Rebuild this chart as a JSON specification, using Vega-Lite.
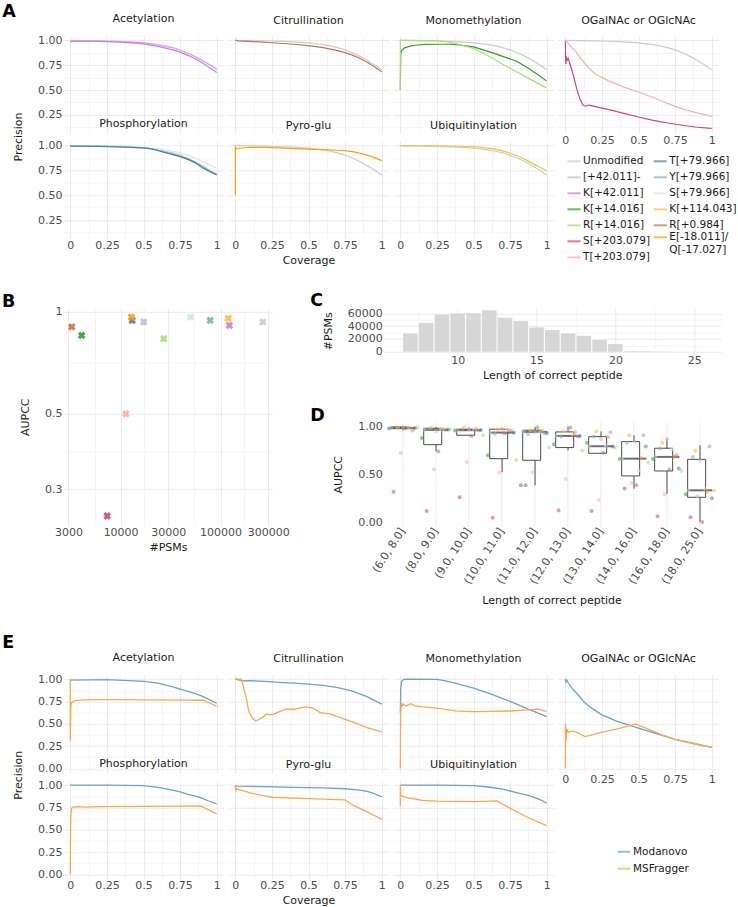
{
"$schema": "https://vega.github.io/schema/vega-lite/v6.json",
"padding": {"left": 2, "top": 3, "right": 0, "bottom": 0},
"background": "white",
"datasets": {
"curvesA": [
{"panel":"all","mod":"Unmodified","cov":0,"prec":1.0},{"panel":"all","mod":"Unmodified","cov":0.1,"prec":0.998},{"panel":"all","mod":"Unmodified","cov":0.2,"prec":0.996},{"panel":"all","mod":"Unmodified","cov":0.3,"prec":0.992},{"panel":"all","mod":"Unmodified","cov":0.4,"prec":0.986},{"panel":"all","mod":"Unmodified","cov":0.5,"prec":0.976},{"panel":"all","mod":"Unmodified","cov":0.6,"prec":0.958},{"panel":"all","mod":"Unmodified","cov":0.65,"prec":0.945},{"panel":"all","mod":"Unmodified","cov":0.7,"prec":0.928},{"panel":"all","mod":"Unmodified","cov":0.75,"prec":0.905},{"panel":"all","mod":"Unmodified","cov":0.8,"prec":0.876},{"panel":"all","mod":"Unmodified","cov":0.85,"prec":0.842},{"panel":"all","mod":"Unmodified","cov":0.9,"prec":0.8},{"panel":"all","mod":"Unmodified","cov":0.95,"prec":0.755},{"panel":"all","mod":"Unmodified","cov":1.0,"prec":0.705},
{"panel":"Acetylation","mod":"[+42.011]-","cov":0,"prec":0.99},{"panel":"Acetylation","mod":"[+42.011]-","cov":0.02,"prec":0.995},{"panel":"Acetylation","mod":"[+42.011]-","cov":0.1,"prec":0.995},{"panel":"Acetylation","mod":"[+42.011]-","cov":0.2,"prec":0.994},{"panel":"Acetylation","mod":"[+42.011]-","cov":0.3,"prec":0.99},{"panel":"Acetylation","mod":"[+42.011]-","cov":0.4,"prec":0.985},{"panel":"Acetylation","mod":"[+42.011]-","cov":0.5,"prec":0.975},{"panel":"Acetylation","mod":"[+42.011]-","cov":0.6,"prec":0.955},{"panel":"Acetylation","mod":"[+42.011]-","cov":0.7,"prec":0.925},{"panel":"Acetylation","mod":"[+42.011]-","cov":0.75,"prec":0.902},{"panel":"Acetylation","mod":"[+42.011]-","cov":0.8,"prec":0.872},{"panel":"Acetylation","mod":"[+42.011]-","cov":0.85,"prec":0.838},{"panel":"Acetylation","mod":"[+42.011]-","cov":0.9,"prec":0.798},{"panel":"Acetylation","mod":"[+42.011]-","cov":0.95,"prec":0.757},{"panel":"Acetylation","mod":"[+42.011]-","cov":1.0,"prec":0.715},
{"panel":"Acetylation","mod":"K[+42.011]","cov":0,"prec":0.985},{"panel":"Acetylation","mod":"K[+42.011]","cov":0.02,"prec":0.993},{"panel":"Acetylation","mod":"K[+42.011]","cov":0.1,"prec":0.993},{"panel":"Acetylation","mod":"K[+42.011]","cov":0.2,"prec":0.991},{"panel":"Acetylation","mod":"K[+42.011]","cov":0.3,"prec":0.986},{"panel":"Acetylation","mod":"K[+42.011]","cov":0.4,"prec":0.978},{"panel":"Acetylation","mod":"K[+42.011]","cov":0.5,"prec":0.965},{"panel":"Acetylation","mod":"K[+42.011]","cov":0.6,"prec":0.94},{"panel":"Acetylation","mod":"K[+42.011]","cov":0.7,"prec":0.905},{"panel":"Acetylation","mod":"K[+42.011]","cov":0.75,"prec":0.882},{"panel":"Acetylation","mod":"K[+42.011]","cov":0.8,"prec":0.852},{"panel":"Acetylation","mod":"K[+42.011]","cov":0.85,"prec":0.818},{"panel":"Acetylation","mod":"K[+42.011]","cov":0.9,"prec":0.775},{"panel":"Acetylation","mod":"K[+42.011]","cov":0.95,"prec":0.728},{"panel":"Acetylation","mod":"K[+42.011]","cov":1.0,"prec":0.678},
{"panel":"Citrullination","mod":"R[+0.984]","cov":0,"prec":1.0},{"panel":"Citrullination","mod":"R[+0.984]","cov":0.02,"prec":0.995},{"panel":"Citrullination","mod":"R[+0.984]","cov":0.1,"prec":0.99},{"panel":"Citrullination","mod":"R[+0.984]","cov":0.2,"prec":0.982},{"panel":"Citrullination","mod":"R[+0.984]","cov":0.3,"prec":0.972},{"panel":"Citrullination","mod":"R[+0.984]","cov":0.4,"prec":0.962},{"panel":"Citrullination","mod":"R[+0.984]","cov":0.5,"prec":0.948},{"panel":"Citrullination","mod":"R[+0.984]","cov":0.6,"prec":0.928},{"panel":"Citrullination","mod":"R[+0.984]","cov":0.7,"prec":0.898},{"panel":"Citrullination","mod":"R[+0.984]","cov":0.75,"prec":0.878},{"panel":"Citrullination","mod":"R[+0.984]","cov":0.8,"prec":0.852},{"panel":"Citrullination","mod":"R[+0.984]","cov":0.85,"prec":0.82},{"panel":"Citrullination","mod":"R[+0.984]","cov":0.9,"prec":0.78},{"panel":"Citrullination","mod":"R[+0.984]","cov":0.95,"prec":0.735},{"panel":"Citrullination","mod":"R[+0.984]","cov":1.0,"prec":0.685},
{"panel":"Monomethylation","mod":"K[+14.016]","cov":0,"prec":0.5},{"panel":"Monomethylation","mod":"K[+14.016]","cov":0.003,"prec":0.87},{"panel":"Monomethylation","mod":"K[+14.016]","cov":0.01,"prec":0.9},{"panel":"Monomethylation","mod":"K[+14.016]","cov":0.03,"prec":0.925},{"panel":"Monomethylation","mod":"K[+14.016]","cov":0.06,"prec":0.94},{"panel":"Monomethylation","mod":"K[+14.016]","cov":0.1,"prec":0.952},{"panel":"Monomethylation","mod":"K[+14.016]","cov":0.17,"prec":0.96},{"panel":"Monomethylation","mod":"K[+14.016]","cov":0.25,"prec":0.962},{"panel":"Monomethylation","mod":"K[+14.016]","cov":0.33,"prec":0.962},{"panel":"Monomethylation","mod":"K[+14.016]","cov":0.4,"prec":0.955},{"panel":"Monomethylation","mod":"K[+14.016]","cov":0.5,"prec":0.935},{"panel":"Monomethylation","mod":"K[+14.016]","cov":0.6,"prec":0.89},{"panel":"Monomethylation","mod":"K[+14.016]","cov":0.7,"prec":0.84},{"panel":"Monomethylation","mod":"K[+14.016]","cov":0.75,"prec":0.815},{"panel":"Monomethylation","mod":"K[+14.016]","cov":0.8,"prec":0.785},{"panel":"Monomethylation","mod":"K[+14.016]","cov":0.875,"prec":0.72},{"panel":"Monomethylation","mod":"K[+14.016]","cov":0.95,"prec":0.645},{"panel":"Monomethylation","mod":"K[+14.016]","cov":1.0,"prec":0.59},
{"panel":"Monomethylation","mod":"R[+14.016]","cov":0,"prec":0.5},{"panel":"Monomethylation","mod":"R[+14.016]","cov":0,"prec":1.0},{"panel":"Monomethylation","mod":"R[+14.016]","cov":0.01,"prec":1.0},{"panel":"Monomethylation","mod":"R[+14.016]","cov":0.25,"prec":0.998},{"panel":"Monomethylation","mod":"R[+14.016]","cov":0.3,"prec":0.99},{"panel":"Monomethylation","mod":"R[+14.016]","cov":0.375,"prec":0.97},{"panel":"Monomethylation","mod":"R[+14.016]","cov":0.45,"prec":0.94},{"panel":"Monomethylation","mod":"R[+14.016]","cov":0.5,"prec":0.92},{"panel":"Monomethylation","mod":"R[+14.016]","cov":0.625,"prec":0.825},{"panel":"Monomethylation","mod":"R[+14.016]","cov":0.7,"prec":0.76},{"panel":"Monomethylation","mod":"R[+14.016]","cov":0.75,"prec":0.72},{"panel":"Monomethylation","mod":"R[+14.016]","cov":0.8,"prec":0.68},{"panel":"Monomethylation","mod":"R[+14.016]","cov":0.875,"prec":0.62},{"panel":"Monomethylation","mod":"R[+14.016]","cov":0.95,"prec":0.56},{"panel":"Monomethylation","mod":"R[+14.016]","cov":1.0,"prec":0.52},
{"panel":"OGalNAc or OGlcNAc","mod":"S[+203.079]","cov":0,"prec":1.0},{"panel":"OGalNAc or OGlcNAc","mod":"S[+203.079]","cov":0.003,"prec":0.76},{"panel":"OGalNAc or OGlcNAc","mod":"S[+203.079]","cov":0.006,"prec":0.84},{"panel":"OGalNAc or OGlcNAc","mod":"S[+203.079]","cov":0.012,"prec":0.8},{"panel":"OGalNAc or OGlcNAc","mod":"S[+203.079]","cov":0.02,"prec":0.82},{"panel":"OGalNAc or OGlcNAc","mod":"S[+203.079]","cov":0.03,"prec":0.77},{"panel":"OGalNAc or OGlcNAc","mod":"S[+203.079]","cov":0.045,"prec":0.7},{"panel":"OGalNAc or OGlcNAc","mod":"S[+203.079]","cov":0.06,"prec":0.62},{"panel":"OGalNAc or OGlcNAc","mod":"S[+203.079]","cov":0.08,"prec":0.5},{"panel":"OGalNAc or OGlcNAc","mod":"S[+203.079]","cov":0.1,"prec":0.41},{"panel":"OGalNAc or OGlcNAc","mod":"S[+203.079]","cov":0.12,"prec":0.35},{"panel":"OGalNAc or OGlcNAc","mod":"S[+203.079]","cov":0.14,"prec":0.337},{"panel":"OGalNAc or OGlcNAc","mod":"S[+203.079]","cov":0.16,"prec":0.348},{"panel":"OGalNAc or OGlcNAc","mod":"S[+203.079]","cov":0.2,"prec":0.335},{"panel":"OGalNAc or OGlcNAc","mod":"S[+203.079]","cov":0.25,"prec":0.318},{"panel":"OGalNAc or OGlcNAc","mod":"S[+203.079]","cov":0.3,"prec":0.302},{"panel":"OGalNAc or OGlcNAc","mod":"S[+203.079]","cov":0.4,"prec":0.265},{"panel":"OGalNAc or OGlcNAc","mod":"S[+203.079]","cov":0.5,"prec":0.228},{"panel":"OGalNAc or OGlcNAc","mod":"S[+203.079]","cov":0.6,"prec":0.195},{"panel":"OGalNAc or OGlcNAc","mod":"S[+203.079]","cov":0.7,"prec":0.168},{"panel":"OGalNAc or OGlcNAc","mod":"S[+203.079]","cov":0.8,"prec":0.145},{"panel":"OGalNAc or OGlcNAc","mod":"S[+203.079]","cov":0.9,"prec":0.125},{"panel":"OGalNAc or OGlcNAc","mod":"S[+203.079]","cov":1.0,"prec":0.113},
{"panel":"OGalNAc or OGlcNAc","mod":"T[+203.079]","cov":0,"prec":1.0},{"panel":"OGalNAc or OGlcNAc","mod":"T[+203.079]","cov":0.01,"prec":0.99},{"panel":"OGalNAc or OGlcNAc","mod":"T[+203.079]","cov":0.03,"prec":0.95},{"panel":"OGalNAc or OGlcNAc","mod":"T[+203.079]","cov":0.07,"prec":0.89},{"panel":"OGalNAc or OGlcNAc","mod":"T[+203.079]","cov":0.11,"prec":0.81},{"panel":"OGalNAc or OGlcNAc","mod":"T[+203.079]","cov":0.16,"prec":0.72},{"panel":"OGalNAc or OGlcNAc","mod":"T[+203.079]","cov":0.2,"prec":0.67},{"panel":"OGalNAc or OGlcNAc","mod":"T[+203.079]","cov":0.25,"prec":0.625},{"panel":"OGalNAc or OGlcNAc","mod":"T[+203.079]","cov":0.3,"prec":0.59},{"panel":"OGalNAc or OGlcNAc","mod":"T[+203.079]","cov":0.4,"prec":0.53},{"panel":"OGalNAc or OGlcNAc","mod":"T[+203.079]","cov":0.5,"prec":0.48},{"panel":"OGalNAc or OGlcNAc","mod":"T[+203.079]","cov":0.6,"prec":0.425},{"panel":"OGalNAc or OGlcNAc","mod":"T[+203.079]","cov":0.7,"prec":0.365},{"panel":"OGalNAc or OGlcNAc","mod":"T[+203.079]","cov":0.75,"prec":0.335},{"panel":"OGalNAc or OGlcNAc","mod":"T[+203.079]","cov":0.8,"prec":0.31},{"panel":"OGalNAc or OGlcNAc","mod":"T[+203.079]","cov":0.9,"prec":0.27},{"panel":"OGalNAc or OGlcNAc","mod":"T[+203.079]","cov":1.0,"prec":0.235},
{"panel":"Phosphorylation","mod":"S[+79.966]","cov":0,"prec":1.0},{"panel":"Phosphorylation","mod":"S[+79.966]","cov":0.2,"prec":0.998},{"panel":"Phosphorylation","mod":"S[+79.966]","cov":0.4,"prec":0.993},{"panel":"Phosphorylation","mod":"S[+79.966]","cov":0.5,"prec":0.985},{"panel":"Phosphorylation","mod":"S[+79.966]","cov":0.6,"prec":0.97},{"panel":"Phosphorylation","mod":"S[+79.966]","cov":0.7,"prec":0.945},{"panel":"Phosphorylation","mod":"S[+79.966]","cov":0.75,"prec":0.928},{"panel":"Phosphorylation","mod":"S[+79.966]","cov":0.8,"prec":0.905},{"panel":"Phosphorylation","mod":"S[+79.966]","cov":0.875,"prec":0.862},{"panel":"Phosphorylation","mod":"S[+79.966]","cov":0.95,"prec":0.81},{"panel":"Phosphorylation","mod":"S[+79.966]","cov":1.0,"prec":0.775},
{"panel":"Phosphorylation","mod":"Y[+79.966]","cov":0,"prec":1.0},{"panel":"Phosphorylation","mod":"Y[+79.966]","cov":0.1,"prec":0.996},{"panel":"Phosphorylation","mod":"Y[+79.966]","cov":0.2,"prec":0.994},{"panel":"Phosphorylation","mod":"Y[+79.966]","cov":0.3,"prec":0.991},{"panel":"Phosphorylation","mod":"Y[+79.966]","cov":0.4,"prec":0.986},{"panel":"Phosphorylation","mod":"Y[+79.966]","cov":0.5,"prec":0.98},{"panel":"Phosphorylation","mod":"Y[+79.966]","cov":0.55,"prec":0.972},{"panel":"Phosphorylation","mod":"Y[+79.966]","cov":0.6,"prec":0.955},{"panel":"Phosphorylation","mod":"Y[+79.966]","cov":0.7,"prec":0.915},{"panel":"Phosphorylation","mod":"Y[+79.966]","cov":0.75,"prec":0.895},{"panel":"Phosphorylation","mod":"Y[+79.966]","cov":0.8,"prec":0.87},{"panel":"Phosphorylation","mod":"Y[+79.966]","cov":0.85,"prec":0.835},{"panel":"Phosphorylation","mod":"Y[+79.966]","cov":0.9,"prec":0.79},{"panel":"Phosphorylation","mod":"Y[+79.966]","cov":0.95,"prec":0.75},{"panel":"Phosphorylation","mod":"Y[+79.966]","cov":1.0,"prec":0.715},
{"panel":"Phosphorylation","mod":"T[+79.966]","cov":0,"prec":0.995},{"panel":"Phosphorylation","mod":"T[+79.966]","cov":0.1,"prec":0.995},{"panel":"Phosphorylation","mod":"T[+79.966]","cov":0.2,"prec":0.993},{"panel":"Phosphorylation","mod":"T[+79.966]","cov":0.3,"prec":0.99},{"panel":"Phosphorylation","mod":"T[+79.966]","cov":0.4,"prec":0.985},{"panel":"Phosphorylation","mod":"T[+79.966]","cov":0.5,"prec":0.978},{"panel":"Phosphorylation","mod":"T[+79.966]","cov":0.55,"prec":0.97},{"panel":"Phosphorylation","mod":"T[+79.966]","cov":0.6,"prec":0.95},{"panel":"Phosphorylation","mod":"T[+79.966]","cov":0.7,"prec":0.91},{"panel":"Phosphorylation","mod":"T[+79.966]","cov":0.75,"prec":0.89},{"panel":"Phosphorylation","mod":"T[+79.966]","cov":0.8,"prec":0.865},{"panel":"Phosphorylation","mod":"T[+79.966]","cov":0.85,"prec":0.83},{"panel":"Phosphorylation","mod":"T[+79.966]","cov":0.9,"prec":0.78},{"panel":"Phosphorylation","mod":"T[+79.966]","cov":0.95,"prec":0.74},{"panel":"Phosphorylation","mod":"T[+79.966]","cov":1.0,"prec":0.705},
{"panel":"Pyro-glu","mod":"E[-18.011]/Q[-17.027]","cov":0,"prec":0.5},{"panel":"Pyro-glu","mod":"E[-18.011]/Q[-17.027]","cov":0,"prec":0.99},{"panel":"Pyro-glu","mod":"E[-18.011]/Q[-17.027]","cov":0.01,"prec":0.97},{"panel":"Pyro-glu","mod":"E[-18.011]/Q[-17.027]","cov":0.03,"prec":0.975},{"panel":"Pyro-glu","mod":"E[-18.011]/Q[-17.027]","cov":0.1,"prec":0.985},{"panel":"Pyro-glu","mod":"E[-18.011]/Q[-17.027]","cov":0.2,"prec":0.983},{"panel":"Pyro-glu","mod":"E[-18.011]/Q[-17.027]","cov":0.3,"prec":0.978},{"panel":"Pyro-glu","mod":"E[-18.011]/Q[-17.027]","cov":0.4,"prec":0.972},{"panel":"Pyro-glu","mod":"E[-18.011]/Q[-17.027]","cov":0.5,"prec":0.967},{"panel":"Pyro-glu","mod":"E[-18.011]/Q[-17.027]","cov":0.6,"prec":0.962},{"panel":"Pyro-glu","mod":"E[-18.011]/Q[-17.027]","cov":0.7,"prec":0.955},{"panel":"Pyro-glu","mod":"E[-18.011]/Q[-17.027]","cov":0.75,"prec":0.95},{"panel":"Pyro-glu","mod":"E[-18.011]/Q[-17.027]","cov":0.8,"prec":0.94},{"panel":"Pyro-glu","mod":"E[-18.011]/Q[-17.027]","cov":0.85,"prec":0.925},{"panel":"Pyro-glu","mod":"E[-18.011]/Q[-17.027]","cov":0.9,"prec":0.905},{"panel":"Pyro-glu","mod":"E[-18.011]/Q[-17.027]","cov":0.95,"prec":0.88},{"panel":"Pyro-glu","mod":"E[-18.011]/Q[-17.027]","cov":1.0,"prec":0.85},
{"panel":"Ubiquitinylation","mod":"K[+114.043]","cov":0,"prec":1.0},{"panel":"Ubiquitinylation","mod":"K[+114.043]","cov":0.2,"prec":0.999},{"panel":"Ubiquitinylation","mod":"K[+114.043]","cov":0.4,"prec":0.995},{"panel":"Ubiquitinylation","mod":"K[+114.043]","cov":0.5,"prec":0.99},{"panel":"Ubiquitinylation","mod":"K[+114.043]","cov":0.55,"prec":0.985},{"panel":"Ubiquitinylation","mod":"K[+114.043]","cov":0.625,"prec":0.972},{"panel":"Ubiquitinylation","mod":"K[+114.043]","cov":0.7,"prec":0.948},{"panel":"Ubiquitinylation","mod":"K[+114.043]","cov":0.75,"prec":0.925},{"panel":"Ubiquitinylation","mod":"K[+114.043]","cov":0.8,"prec":0.9},{"panel":"Ubiquitinylation","mod":"K[+114.043]","cov":0.875,"prec":0.845},{"panel":"Ubiquitinylation","mod":"K[+114.043]","cov":0.95,"prec":0.785},{"panel":"Ubiquitinylation","mod":"K[+114.043]","cov":1.0,"prec":0.745}
],
"curvesE": [
{"panel":"Acetylation","tool":"Modanovo","cov":0,"prec":0.99},{"panel":"Acetylation","tool":"Modanovo","cov":0.25,"prec":0.995},{"panel":"Acetylation","tool":"Modanovo","cov":0.4,"prec":0.985},{"panel":"Acetylation","tool":"Modanovo","cov":0.5,"prec":0.975},{"panel":"Acetylation","tool":"Modanovo","cov":0.6,"prec":0.955},{"panel":"Acetylation","tool":"Modanovo","cov":0.7,"prec":0.915},{"panel":"Acetylation","tool":"Modanovo","cov":0.75,"prec":0.89},{"panel":"Acetylation","tool":"Modanovo","cov":0.8,"prec":0.865},{"panel":"Acetylation","tool":"Modanovo","cov":0.85,"prec":0.84},{"panel":"Acetylation","tool":"Modanovo","cov":0.9,"prec":0.81},{"panel":"Acetylation","tool":"Modanovo","cov":0.95,"prec":0.77},{"panel":"Acetylation","tool":"Modanovo","cov":1.0,"prec":0.73},
{"panel":"Acetylation","tool":"MSFragger","cov":0,"prec":1.0},{"panel":"Acetylation","tool":"MSFragger","cov":0,"prec":0.31},{"panel":"Acetylation","tool":"MSFragger","cov":0.003,"prec":0.7},{"panel":"Acetylation","tool":"MSFragger","cov":0.01,"prec":0.74},{"panel":"Acetylation","tool":"MSFragger","cov":0.03,"prec":0.76},{"panel":"Acetylation","tool":"MSFragger","cov":0.1,"prec":0.768},{"panel":"Acetylation","tool":"MSFragger","cov":0.25,"prec":0.77},{"panel":"Acetylation","tool":"MSFragger","cov":0.5,"prec":0.768},{"panel":"Acetylation","tool":"MSFragger","cov":0.75,"prec":0.765},{"panel":"Acetylation","tool":"MSFragger","cov":0.91,"prec":0.764},{"panel":"Acetylation","tool":"MSFragger","cov":1.0,"prec":0.698},
{"panel":"Citrullination","tool":"Modanovo","cov":0,"prec":1.0},{"panel":"Citrullination","tool":"Modanovo","cov":0.03,"prec":0.99},{"panel":"Citrullination","tool":"Modanovo","cov":0.06,"prec":0.98},{"panel":"Citrullination","tool":"Modanovo","cov":0.1,"prec":0.985},{"panel":"Citrullination","tool":"Modanovo","cov":0.2,"prec":0.975},{"panel":"Citrullination","tool":"Modanovo","cov":0.3,"prec":0.965},{"panel":"Citrullination","tool":"Modanovo","cov":0.4,"prec":0.955},{"panel":"Citrullination","tool":"Modanovo","cov":0.5,"prec":0.945},{"panel":"Citrullination","tool":"Modanovo","cov":0.6,"prec":0.93},{"panel":"Citrullination","tool":"Modanovo","cov":0.7,"prec":0.905},{"panel":"Citrullination","tool":"Modanovo","cov":0.8,"prec":0.865},{"panel":"Citrullination","tool":"Modanovo","cov":0.9,"prec":0.805},{"panel":"Citrullination","tool":"Modanovo","cov":1.0,"prec":0.72},
{"panel":"Citrullination","tool":"MSFragger","cov":0,"prec":1.0},{"panel":"Citrullination","tool":"MSFragger","cov":0.04,"prec":1.0},{"panel":"Citrullination","tool":"MSFragger","cov":0.05,"prec":0.95},{"panel":"Citrullination","tool":"MSFragger","cov":0.065,"prec":0.85},{"panel":"Citrullination","tool":"MSFragger","cov":0.077,"prec":0.78},{"panel":"Citrullination","tool":"MSFragger","cov":0.09,"prec":0.65},{"panel":"Citrullination","tool":"MSFragger","cov":0.11,"prec":0.58},{"panel":"Citrullination","tool":"MSFragger","cov":0.13,"prec":0.545},{"panel":"Citrullination","tool":"MSFragger","cov":0.14,"prec":0.53},{"panel":"Citrullination","tool":"MSFragger","cov":0.16,"prec":0.545},{"panel":"Citrullination","tool":"MSFragger","cov":0.19,"prec":0.575},{"panel":"Citrullination","tool":"MSFragger","cov":0.21,"prec":0.61},{"panel":"Citrullination","tool":"MSFragger","cov":0.23,"prec":0.6},{"panel":"Citrullination","tool":"MSFragger","cov":0.26,"prec":0.605},{"panel":"Citrullination","tool":"MSFragger","cov":0.3,"prec":0.635},{"panel":"Citrullination","tool":"MSFragger","cov":0.35,"prec":0.667},{"panel":"Citrullination","tool":"MSFragger","cov":0.4,"prec":0.66},{"panel":"Citrullination","tool":"MSFragger","cov":0.45,"prec":0.68},{"panel":"Citrullination","tool":"MSFragger","cov":0.49,"prec":0.69},{"panel":"Citrullination","tool":"MSFragger","cov":0.53,"prec":0.675},{"panel":"Citrullination","tool":"MSFragger","cov":0.58,"prec":0.625},{"panel":"Citrullination","tool":"MSFragger","cov":0.645,"prec":0.61},{"panel":"Citrullination","tool":"MSFragger","cov":0.7,"prec":0.58},{"panel":"Citrullination","tool":"MSFragger","cov":0.76,"prec":0.544},{"panel":"Citrullination","tool":"MSFragger","cov":0.8,"prec":0.52},{"panel":"Citrullination","tool":"MSFragger","cov":0.9,"prec":0.457},{"panel":"Citrullination","tool":"MSFragger","cov":1.0,"prec":0.41},
{"panel":"Monomethylation","tool":"Modanovo","cov":0,"prec":0.62},{"panel":"Monomethylation","tool":"Modanovo","cov":0.003,"prec":0.9},{"panel":"Monomethylation","tool":"Modanovo","cov":0.008,"prec":0.97},{"panel":"Monomethylation","tool":"Modanovo","cov":0.02,"prec":0.995},{"panel":"Monomethylation","tool":"Modanovo","cov":0.05,"prec":1.0},{"panel":"Monomethylation","tool":"Modanovo","cov":0.25,"prec":0.998},{"panel":"Monomethylation","tool":"Modanovo","cov":0.3,"prec":0.985},{"panel":"Monomethylation","tool":"Modanovo","cov":0.375,"prec":0.955},{"panel":"Monomethylation","tool":"Modanovo","cov":0.5,"prec":0.9},{"panel":"Monomethylation","tool":"Modanovo","cov":0.625,"prec":0.83},{"panel":"Monomethylation","tool":"Modanovo","cov":0.75,"prec":0.75},{"panel":"Monomethylation","tool":"Modanovo","cov":0.875,"prec":0.665},{"panel":"Monomethylation","tool":"Modanovo","cov":1.0,"prec":0.58},
{"panel":"Monomethylation","tool":"MSFragger","cov":0,"prec":0.0},{"panel":"Monomethylation","tool":"MSFragger","cov":0.002,"prec":0.62},{"panel":"Monomethylation","tool":"MSFragger","cov":0.006,"prec":0.73},{"panel":"Monomethylation","tool":"MSFragger","cov":0.01,"prec":0.7},{"panel":"Monomethylation","tool":"MSFragger","cov":0.02,"prec":0.72},{"panel":"Monomethylation","tool":"MSFragger","cov":0.04,"prec":0.7},{"panel":"Monomethylation","tool":"MSFragger","cov":0.07,"prec":0.725},{"panel":"Monomethylation","tool":"MSFragger","cov":0.1,"prec":0.7},{"panel":"Monomethylation","tool":"MSFragger","cov":0.15,"prec":0.69},{"panel":"Monomethylation","tool":"MSFragger","cov":0.25,"prec":0.675},{"panel":"Monomethylation","tool":"MSFragger","cov":0.375,"prec":0.645},{"panel":"Monomethylation","tool":"MSFragger","cov":0.5,"prec":0.637},{"panel":"Monomethylation","tool":"MSFragger","cov":0.625,"prec":0.64},{"panel":"Monomethylation","tool":"MSFragger","cov":0.75,"prec":0.643},{"panel":"Monomethylation","tool":"MSFragger","cov":0.875,"prec":0.655},{"panel":"Monomethylation","tool":"MSFragger","cov":0.94,"prec":0.665},{"panel":"Monomethylation","tool":"MSFragger","cov":1.0,"prec":0.638},
{"panel":"OGalNAc or OGlcNAc","tool":"Modanovo","cov":0,"prec":1.0},{"panel":"OGalNAc or OGlcNAc","tool":"Modanovo","cov":0.005,"prec":0.97},{"panel":"OGalNAc or OGlcNAc","tool":"Modanovo","cov":0.01,"prec":0.99},{"panel":"OGalNAc or OGlcNAc","tool":"Modanovo","cov":0.02,"prec":0.96},{"panel":"OGalNAc or OGlcNAc","tool":"Modanovo","cov":0.05,"prec":0.89},{"panel":"OGalNAc or OGlcNAc","tool":"Modanovo","cov":0.09,"prec":0.82},{"panel":"OGalNAc or OGlcNAc","tool":"Modanovo","cov":0.13,"prec":0.74},{"panel":"OGalNAc or OGlcNAc","tool":"Modanovo","cov":0.18,"prec":0.675},{"panel":"OGalNAc or OGlcNAc","tool":"Modanovo","cov":0.25,"prec":0.6},{"panel":"OGalNAc or OGlcNAc","tool":"Modanovo","cov":0.35,"prec":0.53},{"panel":"OGalNAc or OGlcNAc","tool":"Modanovo","cov":0.5,"prec":0.45},{"panel":"OGalNAc or OGlcNAc","tool":"Modanovo","cov":0.6,"prec":0.4},{"panel":"OGalNAc or OGlcNAc","tool":"Modanovo","cov":0.75,"prec":0.325},{"panel":"OGalNAc or OGlcNAc","tool":"Modanovo","cov":0.9,"prec":0.27},{"panel":"OGalNAc or OGlcNAc","tool":"Modanovo","cov":1.0,"prec":0.235},
{"panel":"OGalNAc or OGlcNAc","tool":"MSFragger","cov":0,"prec":0.0},{"panel":"OGalNAc or OGlcNAc","tool":"MSFragger","cov":0.001,"prec":0.5},{"panel":"OGalNAc or OGlcNAc","tool":"MSFragger","cov":0.005,"prec":0.3},{"panel":"OGalNAc or OGlcNAc","tool":"MSFragger","cov":0.01,"prec":0.44},{"panel":"OGalNAc or OGlcNAc","tool":"MSFragger","cov":0.02,"prec":0.4},{"panel":"OGalNAc or OGlcNAc","tool":"MSFragger","cov":0.04,"prec":0.42},{"panel":"OGalNAc or OGlcNAc","tool":"MSFragger","cov":0.07,"prec":0.41},{"panel":"OGalNAc or OGlcNAc","tool":"MSFragger","cov":0.1,"prec":0.385},{"panel":"OGalNAc or OGlcNAc","tool":"MSFragger","cov":0.135,"prec":0.355},{"panel":"OGalNAc or OGlcNAc","tool":"MSFragger","cov":0.17,"prec":0.37},{"panel":"OGalNAc or OGlcNAc","tool":"MSFragger","cov":0.25,"prec":0.405},{"panel":"OGalNAc or OGlcNAc","tool":"MSFragger","cov":0.35,"prec":0.44},{"panel":"OGalNAc or OGlcNAc","tool":"MSFragger","cov":0.48,"prec":0.495},{"panel":"OGalNAc or OGlcNAc","tool":"MSFragger","cov":0.55,"prec":0.45},{"panel":"OGalNAc or OGlcNAc","tool":"MSFragger","cov":0.65,"prec":0.38},{"panel":"OGalNAc or OGlcNAc","tool":"MSFragger","cov":0.75,"prec":0.325},{"panel":"OGalNAc or OGlcNAc","tool":"MSFragger","cov":0.9,"prec":0.27},{"panel":"OGalNAc or OGlcNAc","tool":"MSFragger","cov":1.0,"prec":0.235},
{"panel":"Phosphorylation","tool":"Modanovo","cov":0,"prec":1.0},{"panel":"Phosphorylation","tool":"Modanovo","cov":0.25,"prec":1.0},{"panel":"Phosphorylation","tool":"Modanovo","cov":0.5,"prec":0.995},{"panel":"Phosphorylation","tool":"Modanovo","cov":0.6,"prec":0.975},{"panel":"Phosphorylation","tool":"Modanovo","cov":0.7,"prec":0.945},{"panel":"Phosphorylation","tool":"Modanovo","cov":0.75,"prec":0.925},{"panel":"Phosphorylation","tool":"Modanovo","cov":0.8,"prec":0.9},{"panel":"Phosphorylation","tool":"Modanovo","cov":0.875,"prec":0.87},{"panel":"Phosphorylation","tool":"Modanovo","cov":0.95,"prec":0.82},{"panel":"Phosphorylation","tool":"Modanovo","cov":1.0,"prec":0.79},
{"panel":"Phosphorylation","tool":"MSFragger","cov":0,"prec":0.0},{"panel":"Phosphorylation","tool":"MSFragger","cov":0.002,"prec":0.55},{"panel":"Phosphorylation","tool":"MSFragger","cov":0.005,"prec":0.7},{"panel":"Phosphorylation","tool":"MSFragger","cov":0.01,"prec":0.745},{"panel":"Phosphorylation","tool":"MSFragger","cov":0.02,"prec":0.755},{"panel":"Phosphorylation","tool":"MSFragger","cov":0.05,"prec":0.76},{"panel":"Phosphorylation","tool":"MSFragger","cov":0.1,"prec":0.755},{"panel":"Phosphorylation","tool":"MSFragger","cov":0.2,"prec":0.76},{"panel":"Phosphorylation","tool":"MSFragger","cov":0.5,"prec":0.762},{"panel":"Phosphorylation","tool":"MSFragger","cov":0.75,"prec":0.765},{"panel":"Phosphorylation","tool":"MSFragger","cov":0.89,"prec":0.768},{"panel":"Phosphorylation","tool":"MSFragger","cov":1.0,"prec":0.678},
{"panel":"Pyro-glu","tool":"Modanovo","cov":0,"prec":1.0},{"panel":"Pyro-glu","tool":"Modanovo","cov":0.01,"prec":0.99},{"panel":"Pyro-glu","tool":"Modanovo","cov":0.2,"prec":0.985},{"panel":"Pyro-glu","tool":"Modanovo","cov":0.4,"prec":0.975},{"panel":"Pyro-glu","tool":"Modanovo","cov":0.6,"prec":0.97},{"panel":"Pyro-glu","tool":"Modanovo","cov":0.75,"prec":0.96},{"panel":"Pyro-glu","tool":"Modanovo","cov":0.85,"prec":0.945},{"panel":"Pyro-glu","tool":"Modanovo","cov":0.9,"prec":0.93},{"panel":"Pyro-glu","tool":"Modanovo","cov":0.95,"prec":0.905},{"panel":"Pyro-glu","tool":"Modanovo","cov":1.0,"prec":0.87},
{"panel":"Pyro-glu","tool":"MSFragger","cov":0,"prec":1.0},{"panel":"Pyro-glu","tool":"MSFragger","cov":0,"prec":0.97},{"panel":"Pyro-glu","tool":"MSFragger","cov":0.005,"prec":0.94},{"panel":"Pyro-glu","tool":"MSFragger","cov":0.01,"prec":0.96},{"panel":"Pyro-glu","tool":"MSFragger","cov":0.02,"prec":0.95},{"panel":"Pyro-glu","tool":"MSFragger","cov":0.05,"prec":0.94},{"panel":"Pyro-glu","tool":"MSFragger","cov":0.1,"prec":0.915},{"panel":"Pyro-glu","tool":"MSFragger","cov":0.2,"prec":0.88},{"panel":"Pyro-glu","tool":"MSFragger","cov":0.25,"prec":0.865},{"panel":"Pyro-glu","tool":"MSFragger","cov":0.5,"prec":0.85},{"panel":"Pyro-glu","tool":"MSFragger","cov":0.75,"prec":0.835},{"panel":"Pyro-glu","tool":"MSFragger","cov":0.8,"prec":0.78},{"panel":"Pyro-glu","tool":"MSFragger","cov":0.85,"prec":0.74},{"panel":"Pyro-glu","tool":"MSFragger","cov":0.9,"prec":0.7},{"panel":"Pyro-glu","tool":"MSFragger","cov":0.95,"prec":0.66},{"panel":"Pyro-glu","tool":"MSFragger","cov":1.0,"prec":0.62},
{"panel":"Ubiquitinylation","tool":"Modanovo","cov":0,"prec":1.0},{"panel":"Ubiquitinylation","tool":"Modanovo","cov":0.25,"prec":1.0},{"panel":"Ubiquitinylation","tool":"Modanovo","cov":0.5,"prec":0.996},{"panel":"Ubiquitinylation","tool":"Modanovo","cov":0.6,"prec":0.98},{"panel":"Ubiquitinylation","tool":"Modanovo","cov":0.7,"prec":0.955},{"panel":"Ubiquitinylation","tool":"Modanovo","cov":0.75,"prec":0.935},{"panel":"Ubiquitinylation","tool":"Modanovo","cov":0.8,"prec":0.915},{"panel":"Ubiquitinylation","tool":"Modanovo","cov":0.875,"prec":0.885},{"panel":"Ubiquitinylation","tool":"Modanovo","cov":0.95,"prec":0.84},{"panel":"Ubiquitinylation","tool":"Modanovo","cov":1.0,"prec":0.8},
{"panel":"Ubiquitinylation","tool":"MSFragger","cov":0,"prec":0.76},{"panel":"Ubiquitinylation","tool":"MSFragger","cov":0,"prec":1.0},{"panel":"Ubiquitinylation","tool":"MSFragger","cov":0.003,"prec":0.89},{"panel":"Ubiquitinylation","tool":"MSFragger","cov":0.01,"prec":0.88},{"panel":"Ubiquitinylation","tool":"MSFragger","cov":0.03,"prec":0.87},{"panel":"Ubiquitinylation","tool":"MSFragger","cov":0.06,"prec":0.855},{"panel":"Ubiquitinylation","tool":"MSFragger","cov":0.1,"prec":0.845},{"panel":"Ubiquitinylation","tool":"MSFragger","cov":0.15,"prec":0.83},{"panel":"Ubiquitinylation","tool":"MSFragger","cov":0.25,"prec":0.822},{"panel":"Ubiquitinylation","tool":"MSFragger","cov":0.5,"prec":0.815},{"panel":"Ubiquitinylation","tool":"MSFragger","cov":0.66,"prec":0.824},{"panel":"Ubiquitinylation","tool":"MSFragger","cov":0.75,"prec":0.74},{"panel":"Ubiquitinylation","tool":"MSFragger","cov":0.875,"prec":0.635},{"panel":"Ubiquitinylation","tool":"MSFragger","cov":1.0,"prec":0.547}
],
"aupccB": [
{"mod":"R[+0.984]","psms":3245,"aupcc":0.903},{"mod":"K[+14.016]","psms":4075,"aupcc":0.852},{"mod":"S[+203.079]","psms":7330,"aupcc":0.25},{"mod":"T[+203.079]","psms":11300,"aupcc":0.5},{"mod":"T[+79.966]","psms":13060,"aupcc":0.943},{"mod":"E[-18.011]/Q[-17.027]","psms":12770,"aupcc":0.965},{"mod":"[+42.011]-","psms":17060,"aupcc":0.933},{"mod":"R[+14.016]","psms":27000,"aupcc":0.833},{"mod":"S[+79.966]","psms":50100,"aupcc":0.965},{"mod":"Y[+79.966]","psms":78700,"aupcc":0.943},{"mod":"K[+42.011]","psms":122500,"aupcc":0.912},{"mod":"K[+114.043]","psms":119700,"aupcc":0.956},{"mod":"Unmodified","psms":265000,"aupcc":0.933}
],
"histC": [
{"len":7,"n":28700},{"len":8,"n":45400},{"len":9,"n":58400},{"len":10,"n":60000},{"len":11,"n":60500},{"len":12,"n":65100},{"len":13,"n":53200},{"len":14,"n":48000},{"len":15,"n":38100},{"len":16,"n":33900},{"len":17,"n":28700},{"len":18,"n":25000},{"len":19,"n":18300},{"len":20,"n":12000},{"len":21,"n":1000},{"len":22,"n":800},{"len":23,"n":500},{"len":24,"n":200},{"len":25,"n":100}
],
"boxD": [
{"bin":"(6.0, 8.0]","lower":0.96,"q1":0.979,"median":0.985,"q3":0.997,"upper":1.0},
{"bin":"(8.0, 9.0]","lower":0.741,"q1":0.811,"median":0.965,"q3":0.982,"upper":0.995},
{"bin":"(9.0, 10.0]","lower":0.9,"q1":0.909,"median":0.962,"q3":0.972,"upper":0.99},
{"bin":"(10.0, 11.0]","lower":0.524,"q1":0.664,"median":0.937,"q3":0.972,"upper":0.985},
{"bin":"(11.0, 12.0]","lower":0.385,"q1":0.647,"median":0.944,"q3":0.962,"upper":0.995},
{"bin":"(12.0, 13.0]","lower":0.75,"q1":0.78,"median":0.902,"q3":0.944,"upper":1.0},
{"bin":"(13.0, 14.0]","lower":0.72,"q1":0.72,"median":0.794,"q3":0.895,"upper":0.95},
{"bin":"(14.0, 16.0]","lower":0.35,"q1":0.483,"median":0.664,"q3":0.843,"upper":0.91},
{"bin":"(16.0, 18.0]","lower":0.294,"q1":0.535,"median":0.682,"q3":0.773,"upper":0.874},
{"bin":"(18.0, 25.0]","lower":0.0,"q1":0.259,"median":0.332,"q3":0.657,"upper":0.804}
],
"pointsD": [
{"bin":"(6.0, 8.0]","mod":"Unmodified","v":0.985},{"bin":"(6.0, 8.0]","mod":"[+42.011]-","v":0.99},{"bin":"(6.0, 8.0]","mod":"K[+42.011]","v":0.96},{"bin":"(6.0, 8.0]","mod":"K[+14.016]","v":0.98},{"bin":"(6.0, 8.0]","mod":"R[+14.016]","v":0.99},{"bin":"(6.0, 8.0]","mod":"S[+203.079]","v":0.318},{"bin":"(6.0, 8.0]","mod":"T[+203.079]","v":0.724},{"bin":"(6.0, 8.0]","mod":"T[+79.966]","v":0.985},{"bin":"(6.0, 8.0]","mod":"Y[+79.966]","v":0.99},{"bin":"(6.0, 8.0]","mod":"S[+79.966]","v":0.995},{"bin":"(6.0, 8.0]","mod":"K[+114.043]","v":0.985},{"bin":"(6.0, 8.0]","mod":"R[+0.984]","v":0.98},{"bin":"(6.0, 8.0]","mod":"E[-18.011]/Q[-17.027]","v":0.985},
{"bin":"(8.0, 9.0]","mod":"Unmodified","v":0.97},{"bin":"(8.0, 9.0]","mod":"[+42.011]-","v":0.95},{"bin":"(8.0, 9.0]","mod":"K[+42.011]","v":0.965},{"bin":"(8.0, 9.0]","mod":"K[+14.016]","v":0.88},{"bin":"(8.0, 9.0]","mod":"R[+14.016]","v":0.97},{"bin":"(8.0, 9.0]","mod":"S[+203.079]","v":0.115},{"bin":"(8.0, 9.0]","mod":"T[+203.079]","v":0.55},{"bin":"(8.0, 9.0]","mod":"T[+79.966]","v":0.97},{"bin":"(8.0, 9.0]","mod":"Y[+79.966]","v":0.975},{"bin":"(8.0, 9.0]","mod":"S[+79.966]","v":0.97},{"bin":"(8.0, 9.0]","mod":"K[+114.043]","v":0.99},{"bin":"(8.0, 9.0]","mod":"R[+0.984]","v":0.74},{"bin":"(8.0, 9.0]","mod":"E[-18.011]/Q[-17.027]","v":0.975},
{"bin":"(9.0, 10.0]","mod":"Unmodified","v":0.965},{"bin":"(9.0, 10.0]","mod":"[+42.011]-","v":0.97},{"bin":"(9.0, 10.0]","mod":"K[+42.011]","v":0.96},{"bin":"(9.0, 10.0]","mod":"K[+14.016]","v":0.96},{"bin":"(9.0, 10.0]","mod":"R[+14.016]","v":0.91},{"bin":"(9.0, 10.0]","mod":"S[+203.079]","v":0.26},{"bin":"(9.0, 10.0]","mod":"T[+203.079]","v":0.63},{"bin":"(9.0, 10.0]","mod":"T[+79.966]","v":0.965},{"bin":"(9.0, 10.0]","mod":"Y[+79.966]","v":0.97},{"bin":"(9.0, 10.0]","mod":"S[+79.966]","v":0.975},{"bin":"(9.0, 10.0]","mod":"K[+114.043]","v":0.99},{"bin":"(9.0, 10.0]","mod":"R[+0.984]","v":0.9},{"bin":"(9.0, 10.0]","mod":"E[-18.011]/Q[-17.027]","v":0.975},
{"bin":"(10.0, 11.0]","mod":"Unmodified","v":0.94},{"bin":"(10.0, 11.0]","mod":"[+42.011]-","v":0.975},{"bin":"(10.0, 11.0]","mod":"K[+42.011]","v":0.955},{"bin":"(10.0, 11.0]","mod":"K[+14.016]","v":0.7},{"bin":"(10.0, 11.0]","mod":"R[+14.016]","v":0.65},{"bin":"(10.0, 11.0]","mod":"S[+203.079]","v":0.045},{"bin":"(10.0, 11.0]","mod":"T[+203.079]","v":0.52},{"bin":"(10.0, 11.0]","mod":"T[+79.966]","v":0.935},{"bin":"(10.0, 11.0]","mod":"Y[+79.966]","v":0.925},{"bin":"(10.0, 11.0]","mod":"S[+79.966]","v":0.96},{"bin":"(10.0, 11.0]","mod":"K[+114.043]","v":0.97},{"bin":"(10.0, 11.0]","mod":"R[+0.984]","v":0.93},{"bin":"(10.0, 11.0]","mod":"E[-18.011]/Q[-17.027]","v":0.965},
{"bin":"(11.0, 12.0]","mod":"Unmodified","v":0.945},{"bin":"(11.0, 12.0]","mod":"[+42.011]-","v":0.94},{"bin":"(11.0, 12.0]","mod":"K[+42.011]","v":0.93},{"bin":"(11.0, 12.0]","mod":"K[+14.016]","v":0.385},{"bin":"(11.0, 12.0]","mod":"R[+14.016]","v":0.78},{"bin":"(11.0, 12.0]","mod":"S[+203.079]","v":0.385},{"bin":"(11.0, 12.0]","mod":"T[+203.079]","v":0.52},{"bin":"(11.0, 12.0]","mod":"T[+79.966]","v":0.93},{"bin":"(11.0, 12.0]","mod":"Y[+79.966]","v":0.92},{"bin":"(11.0, 12.0]","mod":"S[+79.966]","v":0.935},{"bin":"(11.0, 12.0]","mod":"K[+114.043]","v":0.96},{"bin":"(11.0, 12.0]","mod":"R[+0.984]","v":0.99},{"bin":"(11.0, 12.0]","mod":"E[-18.011]/Q[-17.027]","v":0.955},
{"bin":"(12.0, 13.0]","mod":"Unmodified","v":0.9},{"bin":"(12.0, 13.0]","mod":"[+42.011]-","v":0.97},{"bin":"(12.0, 13.0]","mod":"K[+42.011]","v":0.895},{"bin":"(12.0, 13.0]","mod":"K[+14.016]","v":0.815},{"bin":"(12.0, 13.0]","mod":"R[+14.016]","v":0.75},{"bin":"(12.0, 13.0]","mod":"S[+203.079]","v":0.12},{"bin":"(12.0, 13.0]","mod":"T[+203.079]","v":0.45},{"bin":"(12.0, 13.0]","mod":"T[+79.966]","v":0.9},{"bin":"(12.0, 13.0]","mod":"Y[+79.966]","v":0.895},{"bin":"(12.0, 13.0]","mod":"S[+79.966]","v":0.92},{"bin":"(12.0, 13.0]","mod":"K[+114.043]","v":0.95},{"bin":"(12.0, 13.0]","mod":"R[+0.984]","v":0.99},{"bin":"(12.0, 13.0]","mod":"E[-18.011]/Q[-17.027]","v":0.94},
{"bin":"(13.0, 14.0]","mod":"Unmodified","v":0.79},{"bin":"(13.0, 14.0]","mod":"[+42.011]-","v":0.87},{"bin":"(13.0, 14.0]","mod":"K[+42.011]","v":0.94},{"bin":"(13.0, 14.0]","mod":"K[+14.016]","v":0.83},{"bin":"(13.0, 14.0]","mod":"R[+14.016]","v":0.78},{"bin":"(13.0, 14.0]","mod":"S[+203.079]","v":0.115},{"bin":"(13.0, 14.0]","mod":"T[+203.079]","v":0.23},{"bin":"(13.0, 14.0]","mod":"T[+79.966]","v":0.79},{"bin":"(13.0, 14.0]","mod":"Y[+79.966]","v":0.895},{"bin":"(13.0, 14.0]","mod":"S[+79.966]","v":0.8},{"bin":"(13.0, 14.0]","mod":"K[+114.043]","v":0.95},{"bin":"(13.0, 14.0]","mod":"R[+0.984]","v":0.725},{"bin":"(13.0, 14.0]","mod":"E[-18.011]/Q[-17.027]","v":0.89},
{"bin":"(14.0, 16.0]","mod":"Unmodified","v":0.66},{"bin":"(14.0, 16.0]","mod":"[+42.011]-","v":0.85},{"bin":"(14.0, 16.0]","mod":"K[+42.011]","v":0.91},{"bin":"(14.0, 16.0]","mod":"K[+14.016]","v":0.66},{"bin":"(14.0, 16.0]","mod":"R[+14.016]","v":0.62},{"bin":"(14.0, 16.0]","mod":"S[+203.079]","v":0.35},{"bin":"(14.0, 16.0]","mod":"T[+203.079]","v":0.41},{"bin":"(14.0, 16.0]","mod":"T[+79.966]","v":0.79},{"bin":"(14.0, 16.0]","mod":"Y[+79.966]","v":0.83},{"bin":"(14.0, 16.0]","mod":"S[+79.966]","v":0.54},{"bin":"(14.0, 16.0]","mod":"K[+114.043]","v":0.91},{"bin":"(14.0, 16.0]","mod":"R[+0.984]","v":0.385},{"bin":"(14.0, 16.0]","mod":"E[-18.011]/Q[-17.027]","v":0.67},
{"bin":"(16.0, 18.0]","mod":"Unmodified","v":0.68},{"bin":"(16.0, 18.0]","mod":"[+42.011]-","v":0.87},{"bin":"(16.0, 18.0]","mod":"K[+42.011]","v":0.7},{"bin":"(16.0, 18.0]","mod":"K[+14.016]","v":0.66},{"bin":"(16.0, 18.0]","mod":"R[+14.016]","v":0.535},{"bin":"(16.0, 18.0]","mod":"S[+203.079]","v":0.06},{"bin":"(16.0, 18.0]","mod":"T[+203.079]","v":0.29},{"bin":"(16.0, 18.0]","mod":"T[+79.966]","v":0.56},{"bin":"(16.0, 18.0]","mod":"Y[+79.966]","v":0.77},{"bin":"(16.0, 18.0]","mod":"S[+79.966]","v":0.76},{"bin":"(16.0, 18.0]","mod":"K[+114.043]","v":0.83},{"bin":"(16.0, 18.0]","mod":"R[+0.984]","v":0.55},{"bin":"(16.0, 18.0]","mod":"E[-18.011]/Q[-17.027]","v":0.68},
{"bin":"(18.0, 25.0]","mod":"Unmodified","v":0.33},{"bin":"(18.0, 25.0]","mod":"[+42.011]-","v":0.64},{"bin":"(18.0, 25.0]","mod":"K[+42.011]","v":0.79},{"bin":"(18.0, 25.0]","mod":"K[+14.016]","v":0.29},{"bin":"(18.0, 25.0]","mod":"R[+14.016]","v":0.33},{"bin":"(18.0, 25.0]","mod":"S[+203.079]","v":0.05},{"bin":"(18.0, 25.0]","mod":"T[+203.079]","v":0.27},{"bin":"(18.0, 25.0]","mod":"T[+79.966]","v":0.25},{"bin":"(18.0, 25.0]","mod":"Y[+79.966]","v":0.68},{"bin":"(18.0, 25.0]","mod":"S[+79.966]","v":0.35},{"bin":"(18.0, 25.0]","mod":"K[+114.043]","v":0.75},{"bin":"(18.0, 25.0]","mod":"R[+0.984]","v":0.0},{"bin":"(18.0, 25.0]","mod":"E[-18.011]/Q[-17.027]","v":0.32}
]
},
"config": {
"font": "DejaVu Sans",
"view": {"stroke": null},
"axis": {"domain": false, "ticks": false, "tickSize": 0, "gridColor": "#ebebeb", "labelColor": "#4d4d4d", "labelFontSize": 11, "labelFont": "DejaVu Sans", "titleFont": "DejaVu Sans", "titleFontSize": 11, "titleFontWeight": "normal", "titleColor": "#1a1a1a", "labelPadding": 1, "titlePadding": 4, "labelOverlap": false, "labelFlush": false, "labelBound": false},
"axisY": {"titlePadding": 14},
"title": {"fontSize": 11, "fontWeight": "normal", "color": "#1a1a1a", "font": "DejaVu Sans", "frame": "group", "anchor": "middle", "baseline": "bottom", "offset": 10.5},
"legend": {"symbolType": "stroke", "symbolSize": 170, "symbolStrokeWidth": 2, "symbolOpacity": 0.7, "labelFontSize": 10.5, "labelColor": "#1a1a1a", "labelFont": "DejaVu Sans", "labelOffset": 1, "rowPadding": 2.0, "columnPadding": 5.5, "padding": 0}
},
"bounds": "flush",
"spacing": 105.3,
"resolve": {"scale": {"color": "independent"}, "legend": {"color": "independent"}},
"vconcat": [
{
"title": {"text": "A", "anchor": "start", "frame": "group", "fontSize": 17.5, "fontWeight": "bold", "color": "#000000", "offset": 0, "dx": -60.7, "dy": 7.6},
"bounds": "flush", "spacing": 4,
"resolve": {"scale": {"color": "independent"}, "legend": {"color": "independent"}},
"hconcat": [
{"title": "Acetylation", "width": 161, "height": 97, "data": {"name": "curvesA"},
 "transform": [{"filter": "datum.panel == 'Acetylation' || datum.panel == 'all'"}],
 "mark": {"type": "line", "strokeWidth": 1.2, "clip": true},
 "encoding": {
  "x": {"field": "cov", "type": "quantitative", "scale": {"domain": [-0.05, 1.05], "nice": false, "zero": false}, "axis": {"title": null, "labels": false, "values": [0,0.125,0.25,0.375,0.5,0.625,0.75,0.875,1], "gridWidth": {"condition": {"test": "(datum.value*8)%2 != 0", "value": 0.5}, "value": 1}}},
  "y": {"field": "prec", "type": "quantitative", "scale": {"domain": [0.067, 1.045], "nice": false, "zero": false}, "axis": {"title": "Precision", "titleY": 100.5, "values": [0.125,0.25,0.375,0.5,0.625,0.75,0.875,1], "labelExpr": "(datum.value*8)%2 == 0 ? format(datum.value, '.2f') : ''", "gridWidth": {"condition": {"test": "(datum.value*8)%2 != 0", "value": 0.5}, "value": 1}}},
  "color": {"field": "mod", "type": "nominal", "scale": {"domain": ["Unmodified","[+42.011]-","K[+42.011]","K[+14.016]","R[+14.016]","S[+203.079]","T[+203.079]","T[+79.966]","Y[+79.966]","S[+79.966]","K[+114.043]","R[+0.984]","E[-18.011]/Q[-17.027]"], "range": ["#cccccc","#d0b0e8","#c67fe0","#2e9e2e","#aedd6e","#d4437a","#ffabab","#4682a6","#80b2b5","#cfe8e6","#ffbb33","#bf7350","#ff9f0a"]}, "legend": null},
  "order": {"value": null}
 }},
{"title": "Citrullination", "width": 161, "height": 97, "data": {"name": "curvesA"},
 "transform": [{"filter": "datum.panel == 'Citrullination' || datum.panel == 'all'"}],
 "mark": {"type": "line", "strokeWidth": 1.2, "clip": true},
 "encoding": {
  "x": {"field": "cov", "type": "quantitative", "scale": {"domain": [-0.05, 1.05], "nice": false, "zero": false}, "axis": {"title": null, "labels": false, "values": [0,0.125,0.25,0.375,0.5,0.625,0.75,0.875,1], "gridWidth": {"condition": {"test": "(datum.value*8)%2 != 0", "value": 0.5}, "value": 1}}},
  "y": {"field": "prec", "type": "quantitative", "scale": {"domain": [0.067, 1.045], "nice": false, "zero": false}, "axis": {"title": null, "labels": false, "values": [0.125,0.25,0.375,0.5,0.625,0.75,0.875,1], "gridWidth": {"condition": {"test": "(datum.value*8)%2 != 0", "value": 0.5}, "value": 1}}},
  "color": {"field": "mod", "type": "nominal", "scale": {"domain": ["Unmodified","[+42.011]-","K[+42.011]","K[+14.016]","R[+14.016]","S[+203.079]","T[+203.079]","T[+79.966]","Y[+79.966]","S[+79.966]","K[+114.043]","R[+0.984]","E[-18.011]/Q[-17.027]"], "range": ["#cccccc","#d0b0e8","#c67fe0","#2e9e2e","#aedd6e","#d4437a","#ffabab","#4682a6","#80b2b5","#cfe8e6","#ffbb33","#bf7350","#ff9f0a"]}, "legend": null},
  "order": {"value": null}
 }},
{"title": "Monomethylation", "width": 161, "height": 97, "data": {"name": "curvesA"},
 "transform": [{"filter": "datum.panel == 'Monomethylation' || datum.panel == 'all'"}],
 "mark": {"type": "line", "strokeWidth": 1.2, "clip": true},
 "encoding": {
  "x": {"field": "cov", "type": "quantitative", "scale": {"domain": [-0.05, 1.05], "nice": false, "zero": false}, "axis": {"title": null, "labels": false, "values": [0,0.125,0.25,0.375,0.5,0.625,0.75,0.875,1], "gridWidth": {"condition": {"test": "(datum.value*8)%2 != 0", "value": 0.5}, "value": 1}}},
  "y": {"field": "prec", "type": "quantitative", "scale": {"domain": [0.067, 1.045], "nice": false, "zero": false}, "axis": {"title": null, "labels": false, "values": [0.125,0.25,0.375,0.5,0.625,0.75,0.875,1], "gridWidth": {"condition": {"test": "(datum.value*8)%2 != 0", "value": 0.5}, "value": 1}}},
  "color": {"field": "mod", "type": "nominal", "scale": {"domain": ["Unmodified","[+42.011]-","K[+42.011]","K[+14.016]","R[+14.016]","S[+203.079]","T[+203.079]","T[+79.966]","Y[+79.966]","S[+79.966]","K[+114.043]","R[+0.984]","E[-18.011]/Q[-17.027]"], "range": ["#cccccc","#d0b0e8","#c67fe0","#2e9e2e","#aedd6e","#d4437a","#ffabab","#4682a6","#80b2b5","#cfe8e6","#ffbb33","#bf7350","#ff9f0a"]}, "legend": null},
  "order": {"value": null}
 }},
{"title": "OGalNAc or OGlcNAc", "width": 161, "height": 97, "data": {"name": "curvesA"},
 "transform": [{"filter": "datum.panel == 'OGalNAc or OGlcNAc' || datum.panel == 'all'"}],
 "mark": {"type": "line", "strokeWidth": 1.2, "clip": true},
 "encoding": {
  "x": {"field": "cov", "type": "quantitative", "scale": {"domain": [-0.05, 1.05], "nice": false, "zero": false}, "axis": {"title": null, "values": [0,0.125,0.25,0.375,0.5,0.625,0.75,0.875,1], "labelExpr": "(datum.value*8)%2 == 0 ? format(datum.value, '~g') : ''", "gridWidth": {"condition": {"test": "(datum.value*8)%2 != 0", "value": 0.5}, "value": 1}}},
  "y": {"field": "prec", "type": "quantitative", "scale": {"domain": [0.067, 1.045], "nice": false, "zero": false}, "axis": {"title": null, "labels": false, "values": [0.125,0.25,0.375,0.5,0.625,0.75,0.875,1], "gridWidth": {"condition": {"test": "(datum.value*8)%2 != 0", "value": 0.5}, "value": 1}}},
  "color": {"field": "mod", "type": "nominal", "scale": {"domain": ["Unmodified","[+42.011]-","K[+42.011]","K[+14.016]","R[+14.016]","S[+203.079]","T[+203.079]","T[+79.966]","Y[+79.966]","S[+79.966]","K[+114.043]","R[+0.984]","E[-18.011]/Q[-17.027]"], "range": ["#cccccc","#d0b0e8","#c67fe0","#2e9e2e","#aedd6e","#d4437a","#ffabab","#4682a6","#80b2b5","#cfe8e6","#ffbb33","#bf7350","#ff9f0a"]},
   "legend": {"orient": "none", "legendX": 8, "legendY": 117.3, "title": null, "direction": "vertical", "values": ["Unmodified","[+42.011]-","K[+42.011]","K[+14.016]","R[+14.016]","S[+203.079]","T[+203.079]"]}},
  "order": {"value": null}
 }}
]
},
{
"bounds": "flush", "spacing": 166.5,
"resolve": {"scale": {"color": "independent"}, "legend": {"color": "independent"}},
"vconcat": [
{
"bounds": "flush", "spacing": 4,
"resolve": {"scale": {"color": "independent"}, "legend": {"color": "independent"}},
"hconcat": [
{"title": "Phosphorylation", "width": 161, "height": 97, "data": {"name": "curvesA"},
 "transform": [{"filter": "datum.panel == 'Phosphorylation' || datum.panel == 'all'"}],
 "mark": {"type": "line", "strokeWidth": 1.2, "clip": true},
 "encoding": {
  "x": {"field": "cov", "type": "quantitative", "scale": {"domain": [-0.05, 1.05], "nice": false, "zero": false}, "axis": {"title": null, "values": [0,0.125,0.25,0.375,0.5,0.625,0.75,0.875,1], "labelExpr": "(datum.value*8)%2 == 0 ? format(datum.value, '~g') : ''", "gridWidth": {"condition": {"test": "(datum.value*8)%2 != 0", "value": 0.5}, "value": 1}}},
  "y": {"field": "prec", "type": "quantitative", "scale": {"domain": [0.067, 1.045], "nice": false, "zero": false}, "axis": {"title": null, "values": [0.125,0.25,0.375,0.5,0.625,0.75,0.875,1], "labelExpr": "(datum.value*8)%2 == 0 ? format(datum.value, '.2f') : ''", "gridWidth": {"condition": {"test": "(datum.value*8)%2 != 0", "value": 0.5}, "value": 1}}},
  "color": {"field": "mod", "type": "nominal", "scale": {"domain": ["Unmodified","[+42.011]-","K[+42.011]","K[+14.016]","R[+14.016]","S[+203.079]","T[+203.079]","T[+79.966]","Y[+79.966]","S[+79.966]","K[+114.043]","R[+0.984]","E[-18.011]/Q[-17.027]"], "range": ["#cccccc","#d0b0e8","#c67fe0","#2e9e2e","#aedd6e","#d4437a","#ffabab","#4682a6","#80b2b5","#cfe8e6","#ffbb33","#bf7350","#ff9f0a"]}, "legend": null},
  "order": {"value": null}
 }},
{"title": "Pyro-glu", "width": 161, "height": 97, "data": {"name": "curvesA"},
 "transform": [{"filter": "datum.panel == 'Pyro-glu' || datum.panel == 'all'"}],
 "mark": {"type": "line", "strokeWidth": 1.2, "clip": true},
 "encoding": {
  "x": {"field": "cov", "type": "quantitative", "scale": {"domain": [-0.05, 1.05], "nice": false, "zero": false}, "axis": {"title": "Coverage", "values": [0,0.125,0.25,0.375,0.5,0.625,0.75,0.875,1], "labelExpr": "(datum.value*8)%2 == 0 ? format(datum.value, '~g') : ''", "gridWidth": {"condition": {"test": "(datum.value*8)%2 != 0", "value": 0.5}, "value": 1}}},
  "y": {"field": "prec", "type": "quantitative", "scale": {"domain": [0.067, 1.045], "nice": false, "zero": false}, "axis": {"title": null, "labels": false, "values": [0.125,0.25,0.375,0.5,0.625,0.75,0.875,1], "gridWidth": {"condition": {"test": "(datum.value*8)%2 != 0", "value": 0.5}, "value": 1}}},
  "color": {"field": "mod", "type": "nominal", "scale": {"domain": ["Unmodified","[+42.011]-","K[+42.011]","K[+14.016]","R[+14.016]","S[+203.079]","T[+203.079]","T[+79.966]","Y[+79.966]","S[+79.966]","K[+114.043]","R[+0.984]","E[-18.011]/Q[-17.027]"], "range": ["#cccccc","#d0b0e8","#c67fe0","#2e9e2e","#aedd6e","#d4437a","#ffabab","#4682a6","#80b2b5","#cfe8e6","#ffbb33","#bf7350","#ff9f0a"]},
   "legend": {"orient": "none", "legendX": 424.3, "legendY": 88, "title": null, "direction": "vertical", "values": ["E[-18.011]/Q[-17.027]"], "labelExpr": "datum.label == 'E[-18.011]/Q[-17.027]' ? ['E[-18.011]/', 'Q[-17.027]'] : datum.label"}},
  "order": {"value": null}
 }},
{"title": "Ubiquitinylation", "width": 161, "height": 97, "data": {"name": "curvesA"},
 "transform": [{"filter": "datum.panel == 'Ubiquitinylation' || datum.panel == 'all'"}],
 "mark": {"type": "line", "strokeWidth": 1.2, "clip": true},
 "encoding": {
  "x": {"field": "cov", "type": "quantitative", "scale": {"domain": [-0.05, 1.05], "nice": false, "zero": false}, "axis": {"title": null, "values": [0,0.125,0.25,0.375,0.5,0.625,0.75,0.875,1], "labelExpr": "(datum.value*8)%2 == 0 ? format(datum.value, '~g') : ''", "gridWidth": {"condition": {"test": "(datum.value*8)%2 != 0", "value": 0.5}, "value": 1}}},
  "y": {"field": "prec", "type": "quantitative", "scale": {"domain": [0.067, 1.045], "nice": false, "zero": false}, "axis": {"title": null, "labels": false, "values": [0.125,0.25,0.375,0.5,0.625,0.75,0.875,1], "gridWidth": {"condition": {"test": "(datum.value*8)%2 != 0", "value": 0.5}, "value": 1}}},
  "color": {"field": "mod", "type": "nominal", "scale": {"domain": ["Unmodified","[+42.011]-","K[+42.011]","K[+14.016]","R[+14.016]","S[+203.079]","T[+203.079]","T[+79.966]","Y[+79.966]","S[+79.966]","K[+114.043]","R[+0.984]","E[-18.011]/Q[-17.027]"], "range": ["#cccccc","#d0b0e8","#c67fe0","#2e9e2e","#aedd6e","#d4437a","#ffabab","#4682a6","#80b2b5","#cfe8e6","#ffbb33","#bf7350","#ff9f0a"]},
   "legend": {"orient": "none", "legendX": 259.3, "legendY": 12, "title": null, "direction": "vertical", "values": ["T[+79.966]","Y[+79.966]","S[+79.966]","K[+114.043]","R[+0.984]"]}},
  "order": {"value": null}
 }}
]
},
{
"bounds": "flush", "spacing": 366.95,
"resolve": {"scale": {"color": "independent"}, "legend": {"color": "independent"}},
"vconcat": [
{
"bounds": "flush", "spacing": 110.3,
"resolve": {"scale": {"color": "independent"}, "legend": {"color": "independent"}},
"hconcat": [
{"title": {"text": "B", "anchor": "start", "fontSize": 17.5, "fontWeight": "bold", "color": "#000000", "offset": 0, "dx": -61, "dy": 4.9},
 "width": 210, "height": 218, "data": {"name": "aupccB"},
 "mark": {"type": "point", "shape": "cross", "angle": 45, "filled": true, "size": 60, "opacity": 0.9},
 "encoding": {
  "x": {"field": "psms", "type": "quantitative", "scale": {"type": "log", "domain": [2650, 335000], "nice": false}, "axis": {"title": "#PSMs", "values": [3000,5477,10000,17321,30000,54772,100000,173205,300000], "labelExpr": "(datum.value == 3000 || datum.value == 10000 || datum.value == 30000 || datum.value == 100000 || datum.value == 300000) ? format(datum.value, 'd') : ''", "gridWidth": {"condition": {"test": "!(datum.value == 3000 || datum.value == 10000 || datum.value == 30000 || datum.value == 100000 || datum.value == 300000)", "value": 0.5}, "value": 1}}},
  "y": {"field": "aupcc", "type": "quantitative", "scale": {"type": "log", "domain": [0.2338, 1.0275], "nice": false}, "axis": {"title": "AUPCC", "values": [0.3,0.387,0.5,0.707,1], "labelExpr": "(datum.value == 0.3 || datum.value == 0.5 || datum.value == 1) ? format(datum.value, '~g') : ''", "gridWidth": {"condition": {"test": "!(datum.value == 0.3 || datum.value == 0.5 || datum.value == 1)", "value": 0.5}, "value": 1}}},
  "color": {"field": "mod", "type": "nominal", "scale": {"domain": ["Unmodified","[+42.011]-","K[+42.011]","K[+14.016]","R[+14.016]","S[+203.079]","T[+203.079]","T[+79.966]","Y[+79.966]","S[+79.966]","K[+114.043]","R[+0.984]","E[-18.011]/Q[-17.027]"], "range": ["#cccccc","#d0b0e8","#c67fe0","#2e9e2e","#aedd6e","#d4437a","#ffabab","#4682a6","#80b2b5","#cfe8e6","#ffbb33","#bf7350","#ff9f0a"]}, "legend": null}
 }},
{
"bounds": "flush", "spacing": 68,
"resolve": {"scale": {"color": "independent"}, "legend": {"color": "independent"}},
"vconcat": [
{"title": {"text": "C", "anchor": "start", "fontSize": 17.5, "fontWeight": "bold", "color": "#000000", "offset": 0, "dx": -73, "dy": 2.4},
 "width": 338, "height": 46,
 "layer": [
  {"data": {"name": "histC"}, "mark": {"type": "bar", "width": 14.6, "color": "#d6d6d6"},
   "encoding": {
    "x": {"field": "len", "type": "quantitative", "scale": {"domain": [5.6, 26.4], "nice": false, "zero": false}, "axis": {"title": "Length of correct peptide", "values": [7.5,10,12.5,15,17.5,20,22.5,25], "labelExpr": "datum.value % 5 == 0 ? format(datum.value, 'd') : ''", "gridWidth": {"condition": {"test": "datum.value % 5 != 0", "value": 0.5}, "value": 1}}},
    "y": {"field": "n", "type": "quantitative", "scale": {"domain": [-3280, 68900], "nice": false, "zero": false}, "axis": {"title": "#PSMs", "values": [0,10000,20000,30000,40000,50000,60000], "labelExpr": "datum.value % 20000 == 0 ? format(datum.value, 'd') : ''", "gridWidth": {"condition": {"test": "datum.value % 20000 != 0", "value": 0.5}, "value": 1}}}
   }},
  {"mark": {"type": "rule", "strokeDash": [3, 3], "color": "#000000", "strokeWidth": 0.8}, "encoding": {"x": {"datum": 12}}}
 ]},
{"title": {"text": "D", "anchor": "start", "fontSize": 17.5, "fontWeight": "bold", "color": "#000000", "offset": 0, "dx": -73, "dy": 4.1},
 "width": 336.5, "height": 105,
 "encoding": {
  "x": {"field": "bin", "type": "nominal", "sort": null, "scale": {"domain": ["(6.0, 8.0]","(8.0, 9.0]","(9.0, 10.0]","(10.0, 11.0]","(11.0, 12.0]","(12.0, 13.0]","(13.0, 14.0]","(14.0, 16.0]","(16.0, 18.0]","(18.0, 25.0]"], "paddingInner": 0, "paddingOuter": 0.1}, "axis": {"title": "Length of correct peptide", "labelAngle": -57, "bandPosition": 0.5, "grid": true, "labelPadding": 2, "titlePadding": 9}}
 },
 "layer": [
  {"mark": {"type": "rule", "strokeDash": [4, 3], "color": "#c8c8c8", "strokeWidth": 0.8}, "encoding": {"x": null, "y": {"datum": 0.93, "type": "quantitative", "scale": {"domain": [-0.05, 1.05], "nice": false, "zero": false}, "axis": {"title": "AUPCC", "values": [0,0.125,0.25,0.375,0.5,0.625,0.75,0.875,1], "labelExpr": "(datum.value*8)%2 == 0 ? format(datum.value, '.2f') : ''", "gridWidth": {"condition": {"test": "(datum.value*8)%2 != 0", "value": 0.5}, "value": 1}}}}},
  {"data": {"name": "boxD"}, "mark": {"type": "rule", "color": "#4d4d4d", "strokeWidth": 1}, "encoding": {"y": {"field": "lower", "type": "quantitative"}, "y2": {"field": "upper"}}},
  {"data": {"name": "boxD"}, "mark": {"type": "bar", "width": {"band": 0.75}, "fill": "#ffffff", "stroke": "#4d4d4d", "strokeWidth": 1}, "encoding": {"y": {"field": "q1", "type": "quantitative"}, "y2": {"field": "q3"}}},
  {"data": {"name": "boxD"}, "mark": {"type": "tick", "color": "#333333", "thickness": 2, "size": 24.75}, "encoding": {"y": {"field": "median", "type": "quantitative"}}},
  {"data": {"name": "pointsD"}, "mark": {"type": "circle", "size": 16, "opacity": 0.55},
   "encoding": {
    "xOffset": {"field": "mod", "type": "nominal", "scale": {"domain": ["K[+14.016]","Unmodified","S[+203.079]","Y[+79.966]","K[+114.043]","T[+203.079]","[+42.011]-","R[+0.984]","S[+79.966]","E[-18.011]/Q[-17.027]","K[+42.011]","T[+79.966]","R[+14.016]"], "paddingInner": 0, "paddingOuter": 7.6}},
    "y": {"field": "v", "type": "quantitative"},
    "color": {"field": "mod", "type": "nominal", "scale": {"domain": ["Unmodified","[+42.011]-","K[+42.011]","K[+14.016]","R[+14.016]","S[+203.079]","T[+203.079]","T[+79.966]","Y[+79.966]","S[+79.966]","K[+114.043]","R[+0.984]","E[-18.011]/Q[-17.027]"], "range": ["#cccccc","#d0b0e8","#c67fe0","#2e9e2e","#aedd6e","#d4437a","#ffabab","#4682a6","#80b2b5","#cfe8e6","#ffbb33","#bf7350","#ff9f0a"]}, "legend": null}
   }}
 ]}
]
}
]
},
{
"bounds": "flush", "spacing": 106,
"resolve": {"scale": {"color": "independent"}, "legend": {"color": "independent"}},
"vconcat": [
{
"title": {"text": "E", "anchor": "start", "frame": "group", "fontSize": 17.5, "fontWeight": "bold", "color": "#000000", "offset": 0, "dx": -60.7, "dy": 0},
"bounds": "flush", "spacing": 4,
"resolve": {"scale": {"color": "independent"}, "legend": {"color": "independent"}},
"hconcat": [
{"title": "Acetylation", "width": 161, "height": 98, "data": {"name": "curvesE"},
 "transform": [{"filter": "datum.panel == 'Acetylation'"}],
 "mark": {"type": "line", "strokeWidth": 1.3, "clip": true},
 "encoding": {
  "x": {"field": "cov", "type": "quantitative", "scale": {"domain": [-0.05, 1.05], "nice": false, "zero": false}, "axis": {"title": null, "labels": false, "values": [0,0.125,0.25,0.375,0.5,0.625,0.75,0.875,1], "gridWidth": {"condition": {"test": "(datum.value*8)%2 != 0", "value": 0.5}, "value": 1}}},
  "y": {"field": "prec", "type": "quantitative", "scale": {"domain": [-0.05, 1.05], "nice": false, "zero": false}, "axis": {"title": "Precision", "titleY": 100, "values": [0,0.125,0.25,0.375,0.5,0.625,0.75,0.875,1], "labelExpr": "(datum.value*8)%2 == 0 ? format(datum.value, '.2f') : ''", "gridWidth": {"condition": {"test": "(datum.value*8)%2 != 0", "value": 0.5}, "value": 1}}},
  "color": {"field": "tool", "type": "nominal", "scale": {"domain": ["Modanovo","MSFragger"], "range": ["#6aa3cb","#ffa64d"]}, "legend": null},
  "order": {"value": null}
 }},
{"title": "Citrullination", "width": 161, "height": 98, "data": {"name": "curvesE"},
 "transform": [{"filter": "datum.panel == 'Citrullination'"}],
 "mark": {"type": "line", "strokeWidth": 1.3, "clip": true},
 "encoding": {
  "x": {"field": "cov", "type": "quantitative", "scale": {"domain": [-0.05, 1.05], "nice": false, "zero": false}, "axis": {"title": null, "labels": false, "values": [0,0.125,0.25,0.375,0.5,0.625,0.75,0.875,1], "gridWidth": {"condition": {"test": "(datum.value*8)%2 != 0", "value": 0.5}, "value": 1}}},
  "y": {"field": "prec", "type": "quantitative", "scale": {"domain": [-0.05, 1.05], "nice": false, "zero": false}, "axis": {"title": null, "labels": false, "values": [0,0.125,0.25,0.375,0.5,0.625,0.75,0.875,1], "gridWidth": {"condition": {"test": "(datum.value*8)%2 != 0", "value": 0.5}, "value": 1}}},
  "color": {"field": "tool", "type": "nominal", "scale": {"domain": ["Modanovo","MSFragger"], "range": ["#6aa3cb","#ffa64d"]}, "legend": null},
  "order": {"value": null}
 }},
{"title": "Monomethylation", "width": 161, "height": 98, "data": {"name": "curvesE"},
 "transform": [{"filter": "datum.panel == 'Monomethylation'"}],
 "mark": {"type": "line", "strokeWidth": 1.3, "clip": true},
 "encoding": {
  "x": {"field": "cov", "type": "quantitative", "scale": {"domain": [-0.05, 1.05], "nice": false, "zero": false}, "axis": {"title": null, "labels": false, "values": [0,0.125,0.25,0.375,0.5,0.625,0.75,0.875,1], "gridWidth": {"condition": {"test": "(datum.value*8)%2 != 0", "value": 0.5}, "value": 1}}},
  "y": {"field": "prec", "type": "quantitative", "scale": {"domain": [-0.05, 1.05], "nice": false, "zero": false}, "axis": {"title": null, "labels": false, "values": [0,0.125,0.25,0.375,0.5,0.625,0.75,0.875,1], "gridWidth": {"condition": {"test": "(datum.value*8)%2 != 0", "value": 0.5}, "value": 1}}},
  "color": {"field": "tool", "type": "nominal", "scale": {"domain": ["Modanovo","MSFragger"], "range": ["#6aa3cb","#ffa64d"]}, "legend": null},
  "order": {"value": null}
 }},
{"title": "OGalNAc or OGlcNAc", "width": 161, "height": 98, "data": {"name": "curvesE"},
 "transform": [{"filter": "datum.panel == 'OGalNAc or OGlcNAc'"}],
 "mark": {"type": "line", "strokeWidth": 1.3, "clip": true},
 "encoding": {
  "x": {"field": "cov", "type": "quantitative", "scale": {"domain": [-0.05, 1.05], "nice": false, "zero": false}, "axis": {"title": null, "values": [0,0.125,0.25,0.375,0.5,0.625,0.75,0.875,1], "labelExpr": "(datum.value*8)%2 == 0 ? format(datum.value, '~g') : ''", "gridWidth": {"condition": {"test": "(datum.value*8)%2 != 0", "value": 0.5}, "value": 1}}},
  "y": {"field": "prec", "type": "quantitative", "scale": {"domain": [-0.05, 1.05], "nice": false, "zero": false}, "axis": {"title": null, "labels": false, "values": [0,0.125,0.25,0.375,0.5,0.625,0.75,0.875,1], "gridWidth": {"condition": {"test": "(datum.value*8)%2 != 0", "value": 0.5}, "value": 1}}},
  "color": {"field": "tool", "type": "nominal", "scale": {"domain": ["Modanovo","MSFragger"], "range": ["#6aa3cb","#ffa64d"]},
   "legend": {"orient": "none", "legendX": 58, "legendY": 169, "title": null, "direction": "vertical", "rowPadding": 3}},
  "order": {"value": null}
 }}
]
},
{
"bounds": "flush", "spacing": 4,
"resolve": {"scale": {"color": "independent"}, "legend": {"color": "independent"}},
"hconcat": [
{"title": "Phosphorylation", "width": 161, "height": 98, "data": {"name": "curvesE"},
 "transform": [{"filter": "datum.panel == 'Phosphorylation'"}],
 "mark": {"type": "line", "strokeWidth": 1.3, "clip": true},
 "encoding": {
  "x": {"field": "cov", "type": "quantitative", "scale": {"domain": [-0.05, 1.05], "nice": false, "zero": false}, "axis": {"title": null, "values": [0,0.125,0.25,0.375,0.5,0.625,0.75,0.875,1], "labelExpr": "(datum.value*8)%2 == 0 ? format(datum.value, '~g') : ''", "gridWidth": {"condition": {"test": "(datum.value*8)%2 != 0", "value": 0.5}, "value": 1}}},
  "y": {"field": "prec", "type": "quantitative", "scale": {"domain": [-0.05, 1.05], "nice": false, "zero": false}, "axis": {"title": null, "values": [0,0.125,0.25,0.375,0.5,0.625,0.75,0.875,1], "labelExpr": "(datum.value*8)%2 == 0 ? format(datum.value, '.2f') : ''", "gridWidth": {"condition": {"test": "(datum.value*8)%2 != 0", "value": 0.5}, "value": 1}}},
  "color": {"field": "tool", "type": "nominal", "scale": {"domain": ["Modanovo","MSFragger"], "range": ["#6aa3cb","#ffa64d"]}, "legend": null},
  "order": {"value": null}
 }},
{"title": "Pyro-glu", "width": 161, "height": 98, "data": {"name": "curvesE"},
 "transform": [{"filter": "datum.panel == 'Pyro-glu'"}],
 "mark": {"type": "line", "strokeWidth": 1.3, "clip": true},
 "encoding": {
  "x": {"field": "cov", "type": "quantitative", "scale": {"domain": [-0.05, 1.05], "nice": false, "zero": false}, "axis": {"title": "Coverage", "values": [0,0.125,0.25,0.375,0.5,0.625,0.75,0.875,1], "labelExpr": "(datum.value*8)%2 == 0 ? format(datum.value, '~g') : ''", "gridWidth": {"condition": {"test": "(datum.value*8)%2 != 0", "value": 0.5}, "value": 1}}},
  "y": {"field": "prec", "type": "quantitative", "scale": {"domain": [-0.05, 1.05], "nice": false, "zero": false}, "axis": {"title": null, "labels": false, "values": [0,0.125,0.25,0.375,0.5,0.625,0.75,0.875,1], "gridWidth": {"condition": {"test": "(datum.value*8)%2 != 0", "value": 0.5}, "value": 1}}},
  "color": {"field": "tool", "type": "nominal", "scale": {"domain": ["Modanovo","MSFragger"], "range": ["#6aa3cb","#ffa64d"]}, "legend": null},
  "order": {"value": null}
 }},
{"title": "Ubiquitinylation", "width": 161, "height": 98, "data": {"name": "curvesE"},
 "transform": [{"filter": "datum.panel == 'Ubiquitinylation'"}],
 "mark": {"type": "line", "strokeWidth": 1.3, "clip": true},
 "encoding": {
  "x": {"field": "cov", "type": "quantitative", "scale": {"domain": [-0.05, 1.05], "nice": false, "zero": false}, "axis": {"title": null, "values": [0,0.125,0.25,0.375,0.5,0.625,0.75,0.875,1], "labelExpr": "(datum.value*8)%2 == 0 ? format(datum.value, '~g') : ''", "gridWidth": {"condition": {"test": "(datum.value*8)%2 != 0", "value": 0.5}, "value": 1}}},
  "y": {"field": "prec", "type": "quantitative", "scale": {"domain": [-0.05, 1.05], "nice": false, "zero": false}, "axis": {"title": null, "labels": false, "values": [0,0.125,0.25,0.375,0.5,0.625,0.75,0.875,1], "gridWidth": {"condition": {"test": "(datum.value*8)%2 != 0", "value": 0.5}, "value": 1}}},
  "color": {"field": "tool", "type": "nominal", "scale": {"domain": ["Modanovo","MSFragger"], "range": ["#6aa3cb","#ffa64d"]}, "legend": null},
  "order": {"value": null}
 }}
]
}
]
}
]
}
]
}
]
}
